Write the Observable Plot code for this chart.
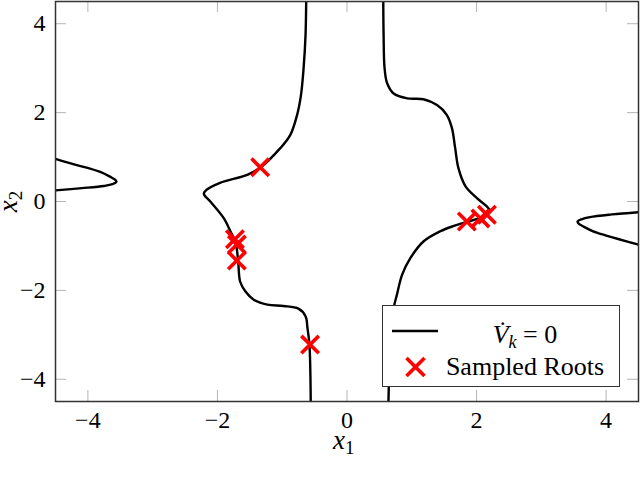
<!DOCTYPE html>
<html><head><meta charset="utf-8">
<script src="https://cdn.jsdelivr.net/npm/d3@7"></script>
<script src="https://cdn.jsdelivr.net/npm/@observablehq/plot@0.6"></script>
<style>
body{margin:0;background:#fff;}
#wrap{position:relative;width:640px;height:481px;font-family:"Liberation Serif",serif;color:#000;}
#wrap svg{display:block;}
#wrap svg text{font-family:"Liberation Serif",serif !important;font-size:24px !important;}
.lab{position:absolute;font-family:"Liberation Serif",serif;font-size:27px;line-height:1;white-space:nowrap;}
.lab i{font-style:italic;}
.lab sub{font-size:19px;vertical-align:-5px;line-height:0;}
#legend{position:absolute;left:382px;top:305px;width:236px;height:80px;border:1.5px solid #333;background:#fff;}
#legend svg{position:absolute;left:0;top:0;}
.ltxt{position:absolute;left:56px;width:172px;text-align:center;font-size:26px;line-height:1;font-family:"Liberation Serif",serif;white-space:nowrap;}
.ltxt sub{font-size:18px;vertical-align:-5px;line-height:0;font-style:italic;}
</style></head><body><div id="wrap"></div>
<script>
// tick values
const xTicks = [-4, -2, 0, 2, 4];
const yTicks = [-4, -2, 0, 2, 4];
// level set  dV_k/dt = 0  (traced branches, [x1, x2])
const branchFarLeft = [[-4.5,0.96],[-4.2,0.83],[-3.99,0.75],[-3.8,0.66],[-3.66,0.56],[-3.57,0.48],[-3.56,0.44],[-3.62,0.39],[-3.75,0.35],[-4.09,0.30],[-4.5,0.25]];
const branchFarRight = [[4.5,-0.24],[4.09,-0.29],[3.75,-0.35],[3.62,-0.40],[3.56,-0.45],[3.57,-0.49],[3.66,-0.57],[3.8,-0.67],[3.99,-0.76],[4.2,-0.85],[4.5,-0.97]];
const branchMidLeft = [[-0.63,4.5],[-0.64,3.75],[-0.67,3.0],[-0.71,2.4],[-0.77,1.95],[-0.875,1.5],[-1.03,1.2],[-1.34,0.76],[-1.54,0.60],[-1.96,0.42],[-2.17,0.26],[-2.21,0.17],[-2.11,0.0],[-1.90,-0.38],[-1.80,-0.67],[-1.72,-0.92],[-1.68,-1.35],[-1.65,-1.80],[-1.57,-2.02],[-1.44,-2.21],[-1.23,-2.32],[-0.98,-2.35],[-0.75,-2.41],[-0.64,-2.58],[-0.61,-2.85],[-0.58,-3.22],[-0.56,-4.5]];
const branchMidRight = [[0.56,4.5],[0.565,3.75],[0.58,3.0],[0.62,2.66],[0.72,2.43],[0.93,2.32],[1.18,2.30],[1.39,2.17],[1.54,1.95],[1.62,1.65],[1.67,1.20],[1.72,0.75],[1.83,0.34],[2.01,0.07],[2.15,-0.10],[2.21,-0.21],[2.17,-0.29],[2.06,-0.37],[1.85,-0.46],[1.65,-0.55],[1.44,-0.67],[1.18,-0.90],[0.98,-1.27],[0.85,-1.65],[0.77,-2.10],[0.72,-2.40],[0.68,-3.0],[0.655,-3.7],[0.64,-4.5]];
// sampled roots
const rootsX1 = [-1.34, -1.73, -1.70, -1.70, -0.57, 1.85, 2.06, 2.16];
const rootsX2 = [0.77, -0.85, -0.97, -1.33, -3.22, -0.45, -0.38, -0.30];

const branches = {a: branchFarLeft, b: branchMidLeft, c: branchMidRight, d: branchFarRight};
const lineRows = Object.entries(branches).flatMap(([id, pts]) => pts.map(([x, y]) => ({id, x, y})));
const roots = rootsX1.map((x, i) => ({x, y: rootsX2[i]}));

const W = 640, H = 481, mL = 55, mR = 2, mT = 1, mB = 80;
const innerW = W - mL - mR, innerH = H - mT - mB, tl = 11;
const fmt = d => d < 0 ? "\u2212" + (-d) : String(d);
const tickStyle = {stroke: "#b5b5b5", strokeWidth: 1};

const chart = Plot.plot({
  width: W, height: H, marginLeft: mL, marginRight: mR, marginTop: mT, marginBottom: mB,
  x: {domain: [-4.5, 4.5]},
  y: {domain: [-4.5, 4.5]},
  style: "font-family:'Liberation Serif',serif;font-size:24px;background:white;color:black;overflow:visible;",
  marks: [
    Plot.ruleX(xTicks, {...tickStyle, insetTop: innerH - tl}),
    Plot.ruleX(xTicks, {...tickStyle, insetBottom: innerH - tl}),
    Plot.ruleY(yTicks, {...tickStyle, insetRight: innerW - tl}),
    Plot.ruleY(yTicks, {...tickStyle, insetLeft: innerW - tl}),
    Plot.line(lineRows, {x: "x", y: "y", z: "id", stroke: "black", strokeWidth: 2.4, curve: "catmull-rom", clip: true}),
    Plot.dot(roots, {x: "x", y: "y", symbol: "times", r: 8, stroke: "#ff0000", strokeWidth: 3.6}),
    Plot.frame({stroke: "#333", strokeWidth: 1.5}),
    Plot.axisX(xTicks, {tickSize: 0, tickPadding: 9, tickFormat: fmt, label: null, fontSize: 24}),
    Plot.axisY(yTicks, {tickSize: 0, tickPadding: 10, tickFormat: fmt, label: null, fontSize: 24})
  ]
});
const wrap = document.getElementById("wrap");
wrap.appendChild(chart);

// axis labels
const xl = document.createElement("div");
xl.className = "lab";
xl.innerHTML = "<i>x</i><sub>1</sub>";
xl.style.left = "333px"; xl.style.top = "427px";
wrap.appendChild(xl);
const yl = document.createElement("div");
yl.className = "lab";
yl.innerHTML = "<i>x</i><sub>2</sub>";
yl.style.left = "-2px"; yl.style.top = "188px";
yl.style.transform = "rotate(-90deg)";
wrap.appendChild(yl);

// legend
const lg = document.createElement("div");
lg.id = "legend";
lg.innerHTML = `<svg width="236" height="80">
  <line x1="9" x2="55" y1="25" y2="25" stroke="black" stroke-width="2.4"/>
  <path d="M23.5,52 L41.5,70 M23.5,70 L41.5,52" stroke="#ff0000" stroke-width="3.6" fill="none"/>
</svg>
<div class="ltxt" style="top:16px"><i>V&#775;</i><sub>k</sub> = 0</div>
<div class="ltxt" style="top:48px">Sampled Roots</div>`;
wrap.appendChild(lg);
</script>
</body></html>
